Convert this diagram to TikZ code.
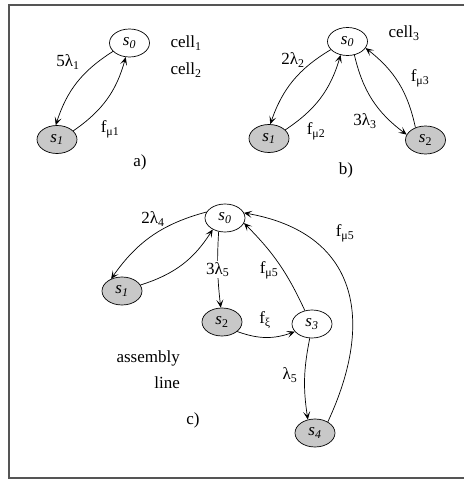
\documentclass[tikz,border=0pt]{standalone}
\usepackage{fontspec}
\setmainfont{Liberation Serif}
\usepackage{tikz}
\usetikzlibrary{
  positioning,
  arrows.meta,
  shapes.geometric
}
\definecolor{downGray}{HTML}{C8C8C8}
\definecolor{frameGray}{HTML}{555555}
\tikzstyle{state}=[ellipse, draw, line width=0.7pt, minimum width=40pt, minimum height=28pt, inner sep=0pt, fill=white]
\tikzstyle{down}=[state, fill=downGray]
\tikzstyle{trans}=[-{Stealth[length=8pt, width=7pt, inset=4pt]}, line width=0.7pt]
\tikzstyle{lbl}=[inner sep=1pt]
\newcommand{\st}[1]{\textit{s}\textsubscript{\textit{#1}}}

\begin{document}
\begin{tikzpicture}[x=1pt, y=1pt, font=\fontsize{17}{20}\selectfont]
      \useasboundingbox (0,0) rectangle (464,480);

      % frame
      \draw[frameGray, line width=1.2pt] (464,475) -- (9,475) -- (9,2) -- (464,2);

      % a) cell1, cell2
      \node[state] (a0) at (129.5,437) {\st{0}};
      \node[down]  (a1) at (57,340.5)  {\st{1}};
      \draw[trans] (a0.207) to[bend right=20] (a1.95);
      \draw[trans] (a1.28)  to[bend right=20] (a0.255);
      \node[lbl] (la1) at (68,418)  {5λ\textsubscript{1}};
      \node[lbl] (lm1) at (110,351) {f\textsubscript{μ1}};
      \node[lbl] (ca1) at (186,437) {cell\textsubscript{1}};
      \node[lbl] (ca2) at (186,410) {cell\textsubscript{2}};
      \node[lbl] (capa) at (140,318) {a)};

      % b) cell3
      \node[state] (b0) at (347.5,438.5) {\st{0}};
      \node[down]  (b1) at (269,341.5)   {\st{1}};
      \node[down]  (b2) at (425.5,340)   {\textit{s}\textsubscript{2}};
      \draw[trans] (b0.206) to[bend right=20] (b1.85);
      \draw[trans] (b1.28)  to[bend right=20] (b0.243);
      \draw[trans] (b0.297) to[bend right=20] (b2.164);
      \draw[trans] (b2.129) to[bend right=20] (b0.340);
      \node[lbl] (lb2) at (293,420) {2λ\textsubscript{2}};
      \node[lbl] (lm2) at (316,349) {f\textsubscript{μ2}};
      \node[lbl] (lb3) at (365,359) {3λ\textsubscript{3}};
      \node[lbl] (lm3) at (420,402) {f\textsubscript{μ3}};
      \node[lbl] (cb3) at (404,447) {cell\textsubscript{3}};
      \node[lbl] (capb) at (346,310) {b)};

      % c) assembly line
      \node[state] (c0) at (225,262) {\st{0}};
      \node[down]  (c1) at (122,189) {\st{1}};
      \node[down]  (c2) at (222,158) {\textit{s}\textsubscript{2}};
      \node[state] (c3) at (312,156) {\st{3}};
      \node[down]  (c4) at (315,47)  {\st{4}};
      \draw[trans] (c0.162) to[bend right=20] (c1.132);
      \draw[trans] (c1.18)  to[bend right=20] (c0.223);
      \draw[trans] (c0.245) to[bend right=5] node[fill=white, inner sep=1pt] (lc5) {3λ\textsubscript{5}} (c2.95);
      \draw[trans] (c3.118) to[bend right=10] (c0.345);
      \draw[trans] (c4.41)  to[out=65, in=-10, looseness=1.3] (c0.15);
      \draw[trans] (c2.328) to[bend right=20] (c3.204);
      \draw[trans] (c3.261) to[bend right=10] (c4.118);
      \node[lbl] (lc4) at (153,261) {2λ\textsubscript{4}};
      \node[lbl] (lm5) at (269,210) {f\textsubscript{μ5}};
      \node[lbl] (lm5b) at (345,247) {f\textsubscript{μ5}};
      \node[lbl] (lxi) at (265,160) {f\textsubscript{ξ}};
      \node[lbl] (ll5) at (290,105) {λ\textsubscript{5}};
      \node[lbl, align=right, anchor=east, font=\fontsize{17}{26}\selectfont] (asm) at (181,110) {assembly\\line};
      \node[lbl] (capc) at (193,60) {c)};
\end{tikzpicture}
\end{document}
